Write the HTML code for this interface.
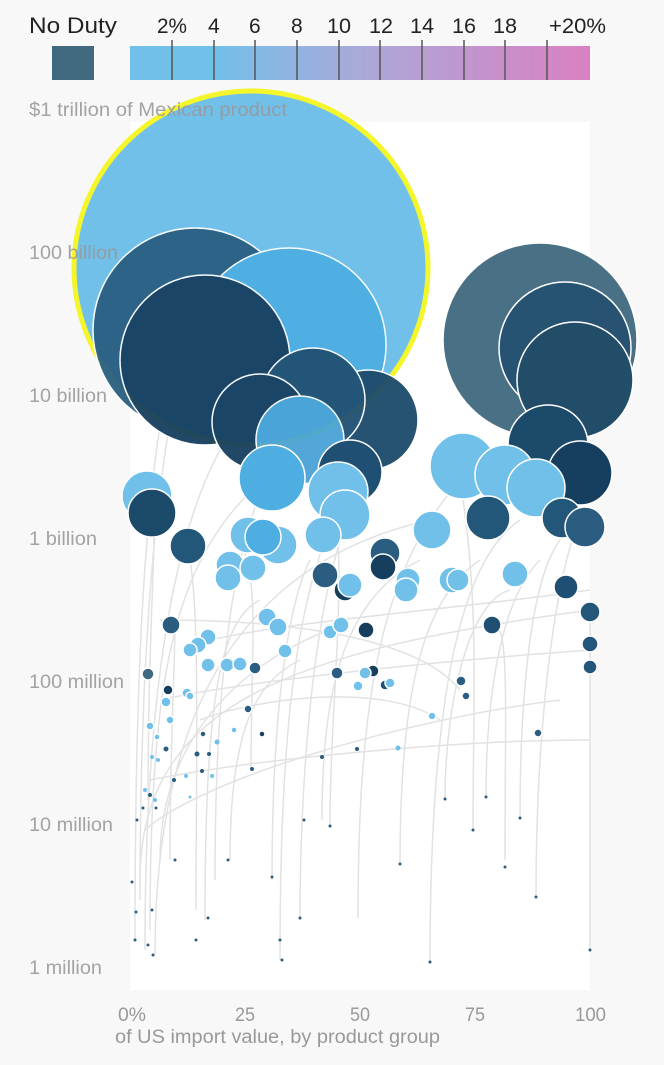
<!DOCTYPE html><html><head><style>
body{margin:0;background:#f8f8f8;width:664px;height:1060px;overflow:hidden;font-family:"Liberation Sans",sans-serif}
</style></head><body>
<svg width="664" height="1060" xmlns="http://www.w3.org/2000/svg" font-family="Liberation Sans Narrow, Liberation Sans, sans-serif">
<rect x="0" y="0" width="664" height="1060" fill="#f8f8f8"/>
<rect x="130" y="122" width="460" height="868" fill="#fff"/>
<!-- legend -->
<text x="29" y="33" font-size="22" fill="#222" textLength="88" lengthAdjust="spacingAndGlyphs">No Duty</text>
<rect x="52" y="46" width="42" height="34" fill="#41697f"/>
<defs><linearGradient id="g" x1="0" x2="1"><stop offset="0" stop-color="#71c0ea"/><stop offset="0.18" stop-color="#71c0ea"/><stop offset="0.5" stop-color="#aaa9d9"/><stop offset="1" stop-color="#da80c2"/></linearGradient></defs>
<rect x="130" y="46" width="460" height="34" fill="url(#g)"/>
<g stroke="#555" stroke-width="1.5">
<line x1="172" y1="40" x2="172" y2="80"/><line x1="214" y1="40" x2="214" y2="80"/><line x1="255" y1="40" x2="255" y2="80"/><line x1="297" y1="40" x2="297" y2="80"/><line x1="339" y1="40" x2="339" y2="80"/><line x1="380" y1="40" x2="380" y2="80"/><line x1="422" y1="40" x2="422" y2="80"/><line x1="464" y1="40" x2="464" y2="80"/><line x1="505" y1="40" x2="505" y2="80"/><line x1="547" y1="40" x2="547" y2="80"/></g>
<g font-size="21" fill="#222">
<text x="157" y="33" textLength="30" lengthAdjust="spacingAndGlyphs">2%</text><text x="208" y="33">4</text><text x="249" y="33">6</text><text x="291" y="33">8</text><text x="327" y="33" textLength="24" lengthAdjust="spacingAndGlyphs">10</text><text x="369" y="33" textLength="24" lengthAdjust="spacingAndGlyphs">12</text><text x="410" y="33" textLength="24" lengthAdjust="spacingAndGlyphs">14</text><text x="452" y="33" textLength="24" lengthAdjust="spacingAndGlyphs">16</text><text x="493" y="33" textLength="24" lengthAdjust="spacingAndGlyphs">18</text><text x="549" y="33" textLength="57" lengthAdjust="spacingAndGlyphs">+20%</text></g>
<!-- lines -->
<g fill="none" stroke="#e2e2e2" stroke-width="1.5">
<path d="M135 940 C135 500 160 300 240 200"/><path d="M140 900 C140 500 180 260 260 190"/><path d="M145 950 C145 600 200 400 300 380"/>
<path d="M150 930 C150 600 190 500 360 420"/><path d="M155 955 C155 700 250 560 430 520"/><path d="M140 880 C140 700 300 650 590 610"/>
<path d="M145 830 C200 780 400 720 560 700"/><path d="M150 780 C250 760 450 740 590 740"/><path d="M160 700 C250 680 450 660 590 650"/>
<path d="M205 920 C205 700 220 620 260 600"/><path d="M230 860 C230 720 260 680 300 660"/><path d="M272 880 C272 700 290 600 310 560"/>
<path d="M280 960 C280 700 300 560 360 470"/><path d="M300 920 C300 700 330 500 380 470"/><path d="M322 820 C322 700 340 600 420 560"/>
<path d="M358 918 C358 700 380 560 470 470"/><path d="M400 865 C400 700 420 600 480 560"/><path d="M430 962 C430 700 460 560 520 520"/>
<path d="M445 800 C445 700 470 600 510 590"/><path d="M486 797 C486 700 500 600 540 560"/><path d="M520 818 C520 700 530 580 560 540"/>
<path d="M536 898 C536 700 560 560 580 520"/><path d="M590 950 C590 800 590 700 590 620"/><path d="M473 830 C473 700 480 600 460 480"/>
<path d="M330 826 C330 700 350 560 330 480"/><path d="M251 770 C251 650 260 580 240 540"/><path d="M196 910 C196 760 200 620 190 560"/>
<path d="M148 800 C148 600 160 520 150 500"/><path d="M170 860 C170 700 180 600 171 625"/><path d="M505 860 C505 700 510 620 492 625"/>
<path d="M160 860 C160 700 300 640 330 630"/><path d="M200 720 C250 700 380 680 440 720"/><path d="M160 620 C300 620 420 640 460 690"/>
<path d="M210 640 C300 620 450 610 590 590"/><path d="M190 180 C260 200 300 300 290 360"/><path d="M215 880 C215 600 250 460 310 430"/>
</g>
<!-- big circles -->
<circle cx="251" cy="268" r="177" fill="#71c0ea" stroke="#f5f52c" stroke-width="5"/>
<g opacity="0.95">
<circle cx="540" cy="340" r="97" fill="#41697f" stroke="#fff" stroke-width="1.5"/>
<circle cx="565" cy="348" r="66" fill="#1c4a6b" stroke="#fff" stroke-width="1.5"/>
<circle cx="575" cy="380" r="58" fill="#164462" stroke="#fff" stroke-width="1.5"/>
<circle cx="195" cy="330" r="102" fill="#2a5f82" stroke="#fff" stroke-width="1.5"/>
<circle cx="289" cy="345" r="97" fill="#4eaee2" stroke="#fff" stroke-width="1.5"/>
<circle cx="205" cy="360" r="85" fill="#163f5f" stroke="#fff" stroke-width="1.5"/>
<circle cx="368" cy="420" r="50" fill="#1c4a6b" stroke="#fff" stroke-width="1.5"/>
<circle cx="313" cy="400" r="52" fill="#1f5073" stroke="#fff" stroke-width="1.5"/>
<circle cx="260" cy="422" r="48" fill="#163f5f" stroke="#fff" stroke-width="1.5"/>
<circle cx="300" cy="440" r="44" fill="#4aa3d6" stroke="#fff" stroke-width="1.5"/>
</g>
<g stroke="#fff" stroke-width="1.5">
<circle cx="463" cy="466" r="33" fill="#71c0ea"/><circle cx="548" cy="445" r="40" fill="#1c4a6b"/><circle cx="505" cy="475" r="30" fill="#71c0ea"/>
<circle cx="580" cy="473" r="32" fill="#163f5f"/><circle cx="536" cy="488" r="29" fill="#71c0ea"/>
<circle cx="350" cy="472" r="32" fill="#1f5073"/><circle cx="338" cy="492" r="30" fill="#71c0ea"/><circle cx="272" cy="478" r="33" fill="#4eaee2"/>
<circle cx="345" cy="515" r="25" fill="#71c0ea"/><circle cx="147" cy="496" r="25" fill="#71c0ea"/><circle cx="152" cy="513" r="24" fill="#1c4a6b"/>
<circle cx="188" cy="546" r="18" fill="#23577a"/><circle cx="432" cy="530" r="19" fill="#71c0ea"/><circle cx="488" cy="518" r="22" fill="#23577a"/>
<circle cx="562" cy="518" r="20" fill="#23577a"/><circle cx="585" cy="527" r="20" fill="#2a5d80"/><circle cx="248" cy="535" r="18" fill="#71c0ea"/>
<circle cx="278" cy="545" r="19" fill="#71c0ea"/><circle cx="263" cy="537" r="18" fill="#4eaee2"/><circle cx="323" cy="535" r="18" fill="#71c0ea"/>
<circle cx="385" cy="553" r="15" fill="#2a5d80"/><circle cx="383" cy="567" r="13" fill="#163f5f"/><circle cx="230" cy="565" r="14" fill="#71c0ea"/>
<circle cx="253" cy="568" r="13" fill="#71c0ea"/><circle cx="228" cy="578" r="13" fill="#71c0ea"/><circle cx="325" cy="575" r="13" fill="#2a5d80"/>
<circle cx="345" cy="590" r="11" fill="#163f5f"/><circle cx="350" cy="585" r="12" fill="#71c0ea"/><circle cx="408" cy="580" r="12" fill="#71c0ea"/>
<circle cx="406" cy="590" r="12" fill="#71c0ea"/><circle cx="452" cy="580" r="13" fill="#71c0ea"/><circle cx="458" cy="580" r="11" fill="#71c0ea"/>
<circle cx="515" cy="574" r="13" fill="#71c0ea"/><circle cx="566" cy="587" r="12" fill="#1f5073"/><circle cx="590" cy="612" r="10" fill="#23577a"/>
<circle cx="590" cy="644" r="8" fill="#23577a"/><circle cx="590" cy="667" r="7" fill="#23577a"/><circle cx="492" cy="625" r="9" fill="#1f5073"/>
<circle cx="171" cy="625" r="9" fill="#2a5d80"/><circle cx="267" cy="617" r="9" fill="#71c0ea"/><circle cx="278" cy="627" r="9" fill="#71c0ea"/>
<circle cx="208" cy="637" r="8" fill="#71c0ea"/><circle cx="198" cy="645" r="8" fill="#71c0ea"/><circle cx="190" cy="650" r="7" fill="#71c0ea"/>
<circle cx="208" cy="665" r="7" fill="#71c0ea"/><circle cx="227" cy="665" r="7" fill="#71c0ea"/><circle cx="240" cy="664" r="7" fill="#71c0ea"/>
<circle cx="255" cy="668" r="6" fill="#2a5d80"/><circle cx="285" cy="651" r="7" fill="#71c0ea"/><circle cx="330" cy="632" r="7" fill="#71c0ea"/>
<circle cx="341" cy="625" r="8" fill="#71c0ea"/><circle cx="366" cy="630" r="8" fill="#163f5f"/><circle cx="148" cy="674" r="6" fill="#41697f"/>
<circle cx="337" cy="673" r="6" fill="#2a5d80"/><circle cx="373" cy="671" r="6" fill="#163f5f"/><circle cx="365" cy="673" r="6" fill="#71c0ea"/>
<circle cx="358" cy="686" r="5" fill="#71c0ea"/><circle cx="385" cy="685" r="5" fill="#1f5073"/><circle cx="390" cy="683" r="5" fill="#71c0ea"/>
<circle cx="461" cy="681" r="5" fill="#2a5d80"/><circle cx="466" cy="696" r="4" fill="#2a5d80"/><circle cx="168" cy="690" r="5" fill="#163f5f"/>
<circle cx="166" cy="702" r="5" fill="#71c0ea"/><circle cx="187" cy="693" r="5" fill="#71c0ea"/><circle cx="190" cy="696" r="4" fill="#71c0ea"/>
<circle cx="170" cy="720" r="4" fill="#71c0ea"/><circle cx="150" cy="726" r="4" fill="#71c0ea"/><circle cx="157" cy="737" r="3" fill="#71c0ea"/>
<circle cx="203" cy="734" r="3" fill="#2a5d80"/><circle cx="234" cy="730" r="3" fill="#71c0ea"/><circle cx="248" cy="709" r="4" fill="#2a5d80"/>
<circle cx="262" cy="734" r="3" fill="#163f5f"/><circle cx="432" cy="716" r="4" fill="#71c0ea"/><circle cx="538" cy="733" r="4" fill="#2a5d80"/>
</g>
<g fill="#2a5d80">
<circle cx="217" cy="742" r="2.5" fill="#71c0ea"/><circle cx="166" cy="749" r="2.5"/><circle cx="197" cy="754" r="2.5"/><circle cx="209" cy="754" r="2"/>
<circle cx="152" cy="757" r="2" fill="#71c0ea"/><circle cx="322" cy="757" r="2"/><circle cx="357" cy="749" r="2"/><circle cx="398" cy="748" r="2.5" fill="#71c0ea"/>
<circle cx="252" cy="769" r="2"/><circle cx="202" cy="771" r="2"/><circle cx="212" cy="776" r="2" fill="#71c0ea"/><circle cx="186" cy="776" r="2" fill="#71c0ea"/>
<circle cx="174" cy="780" r="2"/><circle cx="158" cy="760" r="2" fill="#71c0ea"/><circle cx="145" cy="790" r="2" fill="#71c0ea"/><circle cx="150" cy="795" r="2"/>
<circle cx="155" cy="800" r="2" fill="#71c0ea"/><circle cx="143" cy="808" r="1.5"/><circle cx="156" cy="808" r="1.5"/><circle cx="190" cy="797" r="1.5" fill="#71c0ea"/>
<circle cx="445" cy="799" r="1.5"/><circle cx="486" cy="797" r="1.5"/><circle cx="520" cy="818" r="1.5"/><circle cx="473" cy="830" r="1.5"/>
<circle cx="330" cy="826" r="1.5"/><circle cx="304" cy="820" r="1.5"/><circle cx="137" cy="820" r="1.5"/><circle cx="228" cy="860" r="1.5"/>
<circle cx="175" cy="860" r="1.5"/><circle cx="505" cy="867" r="1.5"/><circle cx="400" cy="864" r="1.5"/><circle cx="272" cy="877" r="1.5"/>
<circle cx="132" cy="882" r="1.5"/><circle cx="536" cy="897" r="1.5"/><circle cx="300" cy="918" r="1.5"/><circle cx="208" cy="918" r="1.5"/>
<circle cx="136" cy="912" r="1.5"/><circle cx="152" cy="910" r="1.5"/><circle cx="135" cy="940" r="1.5"/><circle cx="148" cy="945" r="1.5"/>
<circle cx="280" cy="940" r="1.5"/><circle cx="196" cy="940" r="1.5"/><circle cx="153" cy="955" r="1.5"/><circle cx="590" cy="950" r="1.5"/>
<circle cx="430" cy="962" r="1.5"/><circle cx="282" cy="960" r="1.5"/>
</g>
<!-- axis labels on top -->
<g font-size="19" fill="#999" fill-opacity="0.9" lengthAdjust="spacingAndGlyphs">
<text x="29" y="116" textLength="258" lengthAdjust="spacingAndGlyphs">$1 trillion of Mexican product</text>
<text x="29" y="259" textLength="89" lengthAdjust="spacingAndGlyphs">100 billion</text>
<text x="29" y="402" textLength="78" lengthAdjust="spacingAndGlyphs">10 billion</text>
<text x="29" y="545" textLength="68" lengthAdjust="spacingAndGlyphs">1 billion</text>
<text x="29" y="688" textLength="95" lengthAdjust="spacingAndGlyphs">100 million</text>
<text x="29" y="831" textLength="84" lengthAdjust="spacingAndGlyphs">10 million</text>
<text x="29" y="974" textLength="73" lengthAdjust="spacingAndGlyphs">1 million</text>
</g>
<g font-size="19" fill="#999">
<text x="118" y="1021" textLength="28" lengthAdjust="spacingAndGlyphs">0%</text><text x="235" y="1021" textLength="20" lengthAdjust="spacingAndGlyphs">25</text><text x="350" y="1021" textLength="20" lengthAdjust="spacingAndGlyphs">50</text><text x="465" y="1021" textLength="20" lengthAdjust="spacingAndGlyphs">75</text><text x="575" y="1021" textLength="31" lengthAdjust="spacingAndGlyphs">100</text>
<text x="115" y="1043" textLength="325" lengthAdjust="spacingAndGlyphs">of US import value, by product group</text></g>
</svg>
</body></html>
